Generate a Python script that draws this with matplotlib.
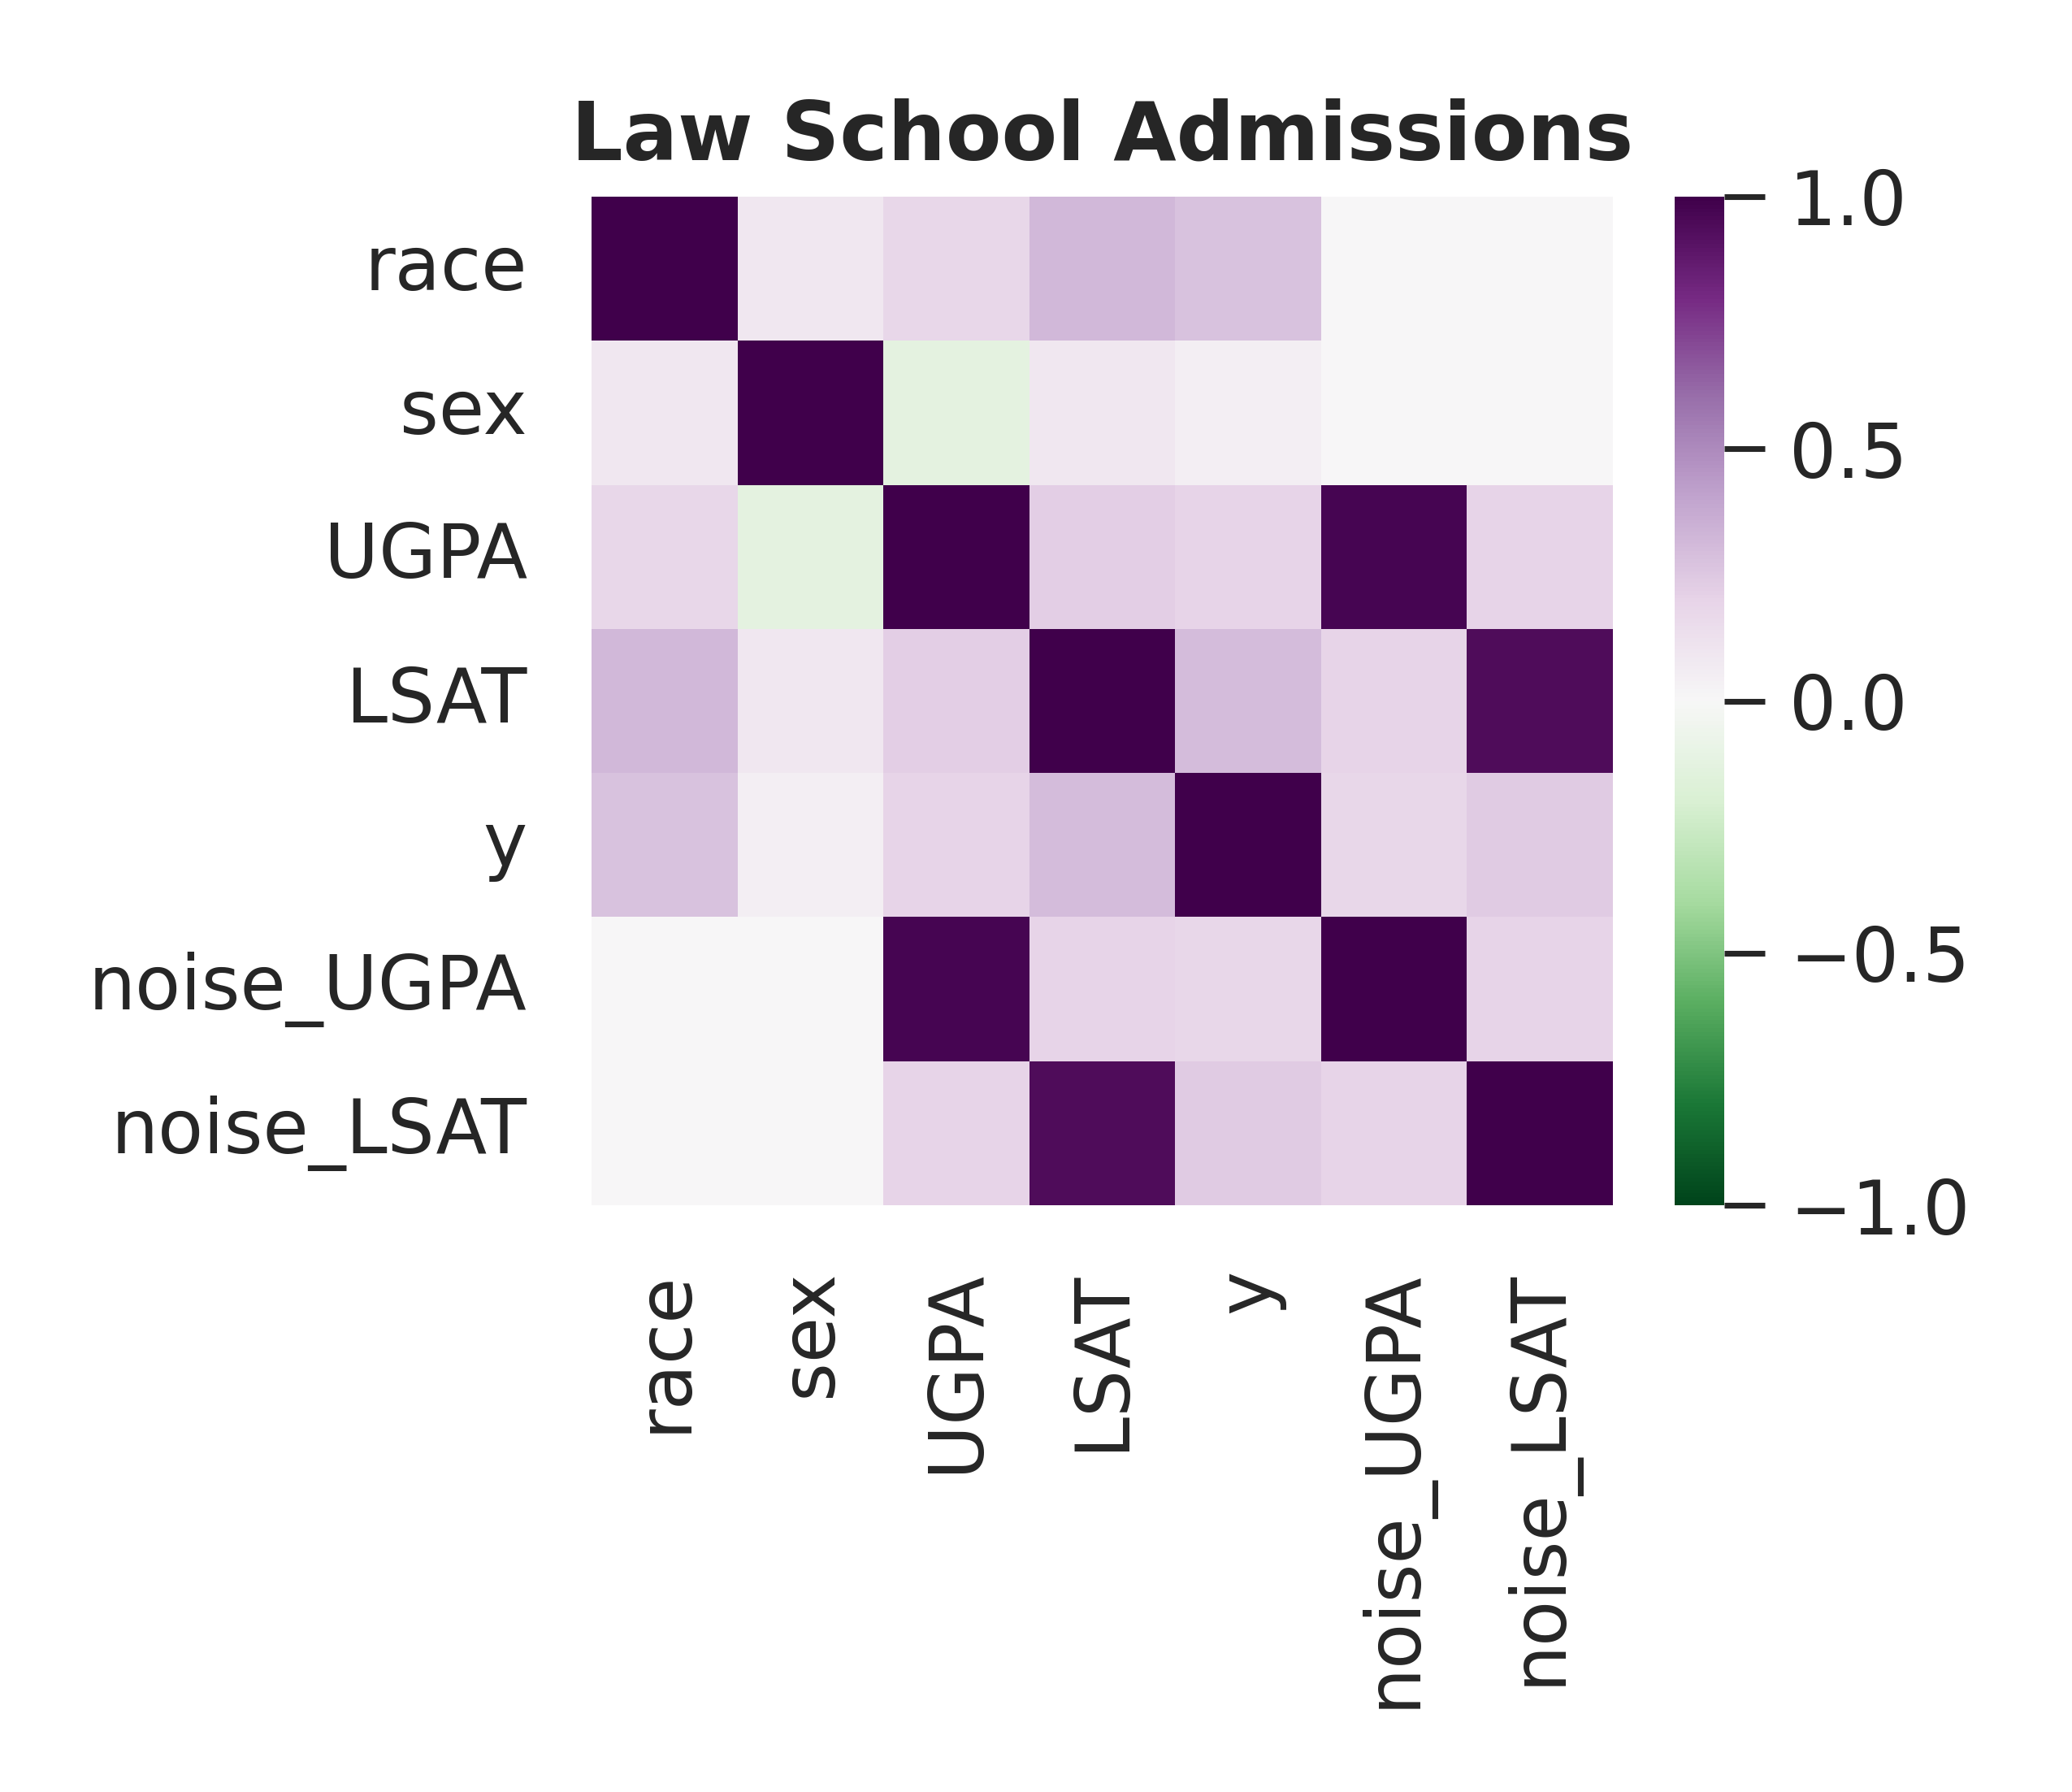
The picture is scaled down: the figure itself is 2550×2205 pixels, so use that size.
import numpy as np
import matplotlib
matplotlib.use("Agg")
import matplotlib.pyplot as plt

labels = ["race", "sex", "UGPA", "LSAT", "y", "noise_UGPA", "noise_LSAT"]

# correlation matrix (row-wise, symmetric)
row_race       = [1.00, 0.09, 0.18, 0.32, 0.28, 0.00, 0.00]
row_sex        = [0.09, 1.00, -0.13, 0.09, 0.05, 0.00, 0.00]
row_ugpa       = [0.18, -0.13, 1.00, 0.22, 0.20, 0.97, 0.20]
row_lsat       = [0.32, 0.09, 0.22, 1.00, 0.30, 0.20, 0.94]
row_y          = [0.28, 0.05, 0.20, 0.30, 1.00, 0.18, 0.24]
row_noise_ugpa = [0.00, 0.00, 0.97, 0.20, 0.18, 1.00, 0.20]
row_noise_lsat = [0.00, 0.00, 0.20, 0.94, 0.24, 0.20, 1.00]

corr = np.array([row_race, row_sex, row_ugpa, row_lsat, row_y,
                 row_noise_ugpa, row_noise_lsat])

text_color = "#262626"
plt.rcParams["font.family"] = ["DejaVu Sans"]
plt.rcParams["text.color"] = text_color
plt.rcParams["xtick.color"] = text_color
plt.rcParams["ytick.color"] = text_color

fig = plt.figure(figsize=(8.5, 7.35), dpi=300)
W, H = 2550, 2205
ax = fig.add_axes([728 / W, (H - 1483) / H, 1257 / W, 1241 / H])
cax = fig.add_axes([2061 / W, (H - 1483) / H, 61 / W, 1241 / H])

n = len(labels)
mesh = ax.pcolormesh(np.arange(n + 1), np.arange(n + 1), corr,
                     cmap="PRGn_r", vmin=-1, vmax=1)
ax.set_xlim(0, n)
ax.set_ylim(n, 0)
ax.set_xticks(np.arange(n) + 0.5)
ax.set_yticks(np.arange(n) + 0.5)
ax.set_xticklabels(labels, rotation=90, fontsize=22)
ax.set_yticklabels(labels, fontsize=22, va="center")
ax.tick_params(axis="both", length=0, pad=19)
for s in ax.spines.values():
    s.set_visible(False)

ax.set_title("Law School Admissions", fontsize=24, fontweight="bold",
             color=text_color, pad=11)

cb = fig.colorbar(mesh, cax=cax)
cb.outline.set_visible(False)
cb.set_ticks([-1.0, -0.5, 0.0, 0.5, 1.0])
cax.tick_params(axis="y", length=12, width=1.7, pad=7.3, labelsize=22,
                color=text_color)

fig.savefig("out.png", dpi=300, facecolor="white")
